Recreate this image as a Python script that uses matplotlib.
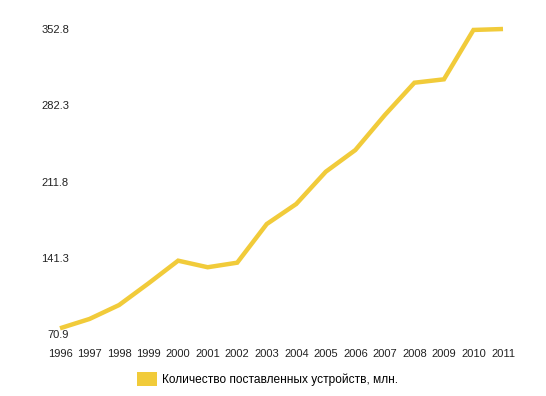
import matplotlib
matplotlib.use("Agg")
import matplotlib.pyplot as plt
import matplotlib.transforms as mtransforms
from matplotlib.patches import Patch

years = list(range(1996, 2012))
values = [70.9, 79.7, 92.8, 113.3, 134.6, 128.4, 132.7, 169.1, 188.0,
          218.4, 238.8, 271.8, 302.2, 305.4, 351.9, 352.8]
y_ticks = [70.9, 141.3, 211.8, 282.3, 352.8]
y_tick_labels = ["70.9", "141.3", "211.8", "282.3", "352.8"]
x_tick_labels = [str(y) for y in years]
series_name = "Количество поставленных устройств, млн."

plt.rcParams['font.family'] = ['Liberation Sans', 'DejaVu Sans']
W, H = 546, 396
fig = plt.figure(figsize=(W / 100, H / 100), dpi=100)
left, right = 60 / W, 503 / W
bottom, top = 1 - 328.3 / H, 1 - 29 / H
ax = fig.add_axes([left, bottom, right - left, top - bottom])

color = '#F1CB3A'
ax.plot(years, values, color=color, lw=3.2, clip_on=False,
        solid_joinstyle='miter', solid_capstyle='butt')

ax.set_xlim(years[0], years[-1])
ax.set_ylim(y_ticks[0], y_ticks[-1])
ax.set_xticks(years)
ax.set_xticklabels(x_tick_labels, fontsize=8, color='#222222')
ax.set_yticks(y_ticks)
ax.set_yticklabels(y_tick_labels, fontsize=8, color='#222222')
ax.tick_params(axis='x', length=0, pad=15)
ax.tick_params(axis='y', length=0, pad=-6.5)
for s in ax.spines.values():
    s.set_visible(False)

# slight downward offsets of y labels as in the reference
for i, lab in enumerate(ax.get_yticklabels()):
    off = -(5.7 - 1.4 * i) / 100.0
    lab.set_transform(lab.get_transform() +
                      mtransforms.ScaledTranslation(0, off, fig.dpi_scale_trans))

handle = Patch(facecolor=color, edgecolor='none')
fig.legend([handle], [series_name], loc='center',
           bbox_to_anchor=(267.5 / W, 1 - 379 / H), frameon=False,
           fontsize=8.6, handlelength=1.65, handleheight=1.5,
           handletextpad=0.4, borderpad=0, borderaxespad=0)

fig.savefig('out.png', dpi=100, facecolor='white')
